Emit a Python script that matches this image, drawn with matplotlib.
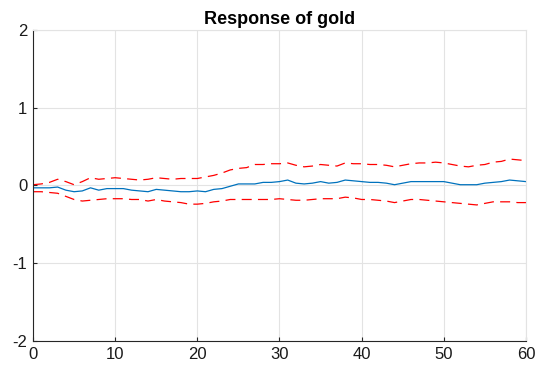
import numpy as np
import matplotlib
matplotlib.use("Agg")
import matplotlib.pyplot as plt

plt.rcParams['font.family'] = ['Liberation Sans', 'DejaVu Sans']

horizon = np.arange(0, 61)

response = [-0.03, -0.03, -0.03, -0.02, -0.06, -0.08, -0.07, -0.03, -0.06, -0.04,
            -0.04, -0.04, -0.06, -0.07, -0.08, -0.05, -0.06, -0.07, -0.08, -0.08,
            -0.07, -0.08, -0.05, -0.04, -0.01, 0.02, 0.02, 0.02, 0.04, 0.04,
            0.05, 0.07, 0.03, 0.02, 0.03, 0.05, 0.03, 0.04, 0.07, 0.06,
            0.05, 0.04, 0.04, 0.03, 0.01, 0.03, 0.05, 0.05, 0.05, 0.05,
            0.05, 0.03, 0.01, 0.01, 0.01, 0.03, 0.04, 0.05, 0.07, 0.06, 0.05]

upper_band = [0.01, 0.02, 0.04, 0.08, 0.05, 0.01, 0.05, 0.10, 0.08, 0.09,
              0.10, 0.09, 0.08, 0.07, 0.08, 0.10, 0.09, 0.08, 0.09, 0.09,
              0.09, 0.11, 0.13, 0.16, 0.20, 0.22, 0.23, 0.27, 0.27, 0.28,
              0.28, 0.29, 0.26, 0.24, 0.25, 0.27, 0.26, 0.25, 0.29, 0.28,
              0.28, 0.27, 0.27, 0.26, 0.24, 0.26, 0.28, 0.29, 0.29, 0.30,
              0.29, 0.27, 0.25, 0.24, 0.26, 0.27, 0.30, 0.31, 0.34, 0.33, 0.32]

lower_band = [-0.08, -0.08, -0.09, -0.10, -0.14, -0.18, -0.20, -0.19, -0.18, -0.17,
              -0.17, -0.17, -0.18, -0.18, -0.20, -0.18, -0.20, -0.21, -0.22, -0.24,
              -0.24, -0.23, -0.21, -0.20, -0.18, -0.18, -0.18, -0.18, -0.18, -0.18,
              -0.17, -0.18, -0.19, -0.19, -0.18, -0.17, -0.17, -0.17, -0.15, -0.16,
              -0.18, -0.18, -0.19, -0.20, -0.22, -0.20, -0.18, -0.18, -0.19, -0.20,
              -0.21, -0.22, -0.23, -0.24, -0.25, -0.23, -0.21, -0.21, -0.21, -0.22, -0.22]

x_ticks = [0, 10, 20, 30, 40, 50, 60]
y_ticks = [-2, -1, 0, 1, 2]

fig = plt.figure(figsize=(5.38, 3.73), dpi=100)
ax = fig.add_axes([0.0613, 0.0858, 0.9164, 0.8338])

ax.plot(horizon, response, color='#0072BD', linewidth=0.9)
ax.plot(horizon, upper_band, color='#FF0000', linestyle=(0, (8, 5)), linewidth=0.9)
ax.plot(horizon, lower_band, color='#FF0000', linestyle=(0, (8, 5)), linewidth=0.9)

ax.set_xlim(0, 60)
ax.set_ylim(-2, 2)
ax.set_xticks(x_ticks)
ax.set_yticks(y_ticks)
ax.set_yticklabels([str(v) for v in y_ticks])
ax.grid(True, color='#e3e3e3', linewidth=0.8)
ax.set_axisbelow(True)
for side in ('top', 'right'):
    ax.spines[side].set_color('#e3e3e3')
    ax.spines[side].set_linewidth(0.8)
for side in ('left', 'bottom'):
    ax.spines[side].set_color('#262626')
    ax.spines[side].set_linewidth(0.8)
ax.tick_params(direction='in', length=3, width=0.8, colors='#262626',
               labelsize=12, labelcolor='#1a1a1a', pad=4)
ax.set_title('Response of gold', fontsize=13, fontweight='bold', pad=4)

fig.savefig('out.png', dpi=100)
